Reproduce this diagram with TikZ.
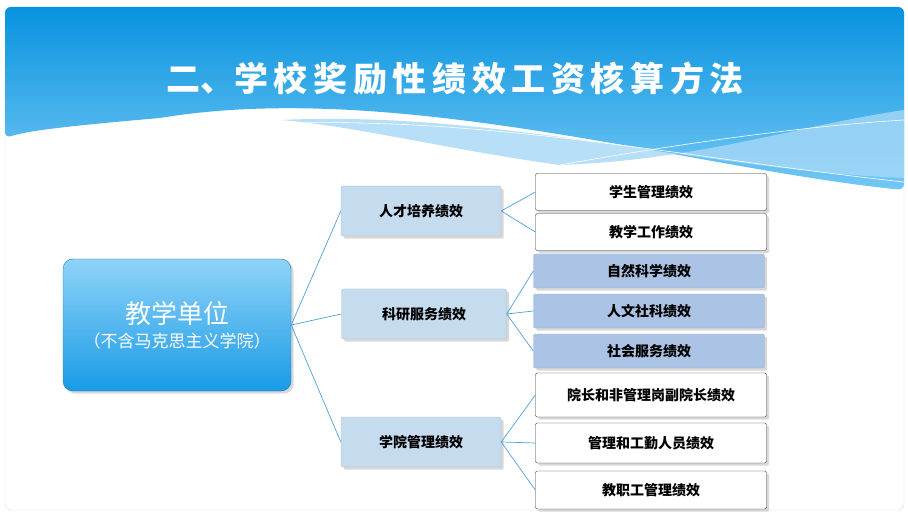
\documentclass[tikz,border=0pt]{standalone}
\usepackage{fontspec}
\setmainfont{Noto Sans CJK SC}
\usetikzlibrary{positioning,shadows}
\definecolor{linkblue}{HTML}{4AA3DF}
\definecolor{catfill}{HTML}{C5DCEF}
\definecolor{subfill}{HTML}{ABC3E4}
\definecolor{headtop}{HTML}{0893DF}
\definecolor{headbot}{HTML}{74C8F4}
\definecolor{waveblue}{HTML}{A6D8F7}
\definecolor{unittop}{HTML}{8FD3F8}
\definecolor{unitbot}{HTML}{1A9BE6}
\tikzset{
  cat/.style={draw=catfill!70!gray,fill=catfill,minimum width=160pt,minimum height=50pt,
    rounded corners=2pt,font=\fontsize{14}{16}\bfseries\selectfont,drop shadow={opacity=0.3}},
  item/.style={draw=black!80,fill=white,minimum width=231pt,minimum height=37pt,
    rounded corners=2pt,font=\fontsize{14}{16}\bfseries\selectfont,drop shadow={opacity=0.3}},
  itemb/.style={item,draw=subfill!80!gray,fill=subfill},
  link/.style={draw=linkblue,line width=0.7pt}
}
\begin{document}
\begin{tikzpicture}[x=1pt,y=-1pt]
\useasboundingbox (0,0) rectangle (908,513);
% slide and header
\fill[white] (0,0) rectangle (908,513);
\draw[black!15,rounded corners=6pt] (5,7) rectangle (904,510);
\shade[top color=headtop,bottom color=headbot,rounded corners=6pt]
  (5,7) -- (904,7) -- (904,190) .. controls (700,170) and (400,80) .. (160,118)
  .. controls (80,125) and (30,130) .. (5,138) -- cycle;
\fill[waveblue,opacity=0.8] (280,120) .. controls (500,110) and (700,170) .. (904,178)
  -- (904,110) .. controls (800,125) and (700,160) .. (560,165)
  .. controls (450,150) and (350,125) .. (280,120) -- cycle;
\draw[white,line width=0.6pt] (290,123) .. controls (500,118) and (700,160) .. (904,182);
\draw[white,line width=0.6pt] (560,165) .. controls (700,140) and (820,125) .. (904,120);
\node[font=\fontsize{34}{38}\bfseries\selectfont,text=white] (title) at (455,78)
  {二、学\,校\,奖\,励\,性\,绩\,效\,工\,资\,核\,算\,方\,法};
% main unit
\node[draw=unitbot!80!black,rounded corners=10pt,top color=unittop,bottom color=unitbot,
  minimum width=228pt,minimum height=132pt,align=center,text=white,drop shadow={opacity=0.3}]
  (unit) at (177,325) {{\fontsize{26}{30}\selectfont 教学单位}\\[6pt]{\fontsize{17}{20}\selectfont （不含马克思主义学院）}};
% categories
\node[cat] (talent) at (421,211) {人才培养绩效};
\node[cat,minimum width=165pt] (research) at (424,314) {科研服务绩效};
\node[cat] (admin) at (421,442) {学院管理绩效};
% items
\node[item] (stu) at (651,192) {学生管理绩效};
\node[item] (teach) at (651,232) {教学工作绩效};
\node[itemb,minimum height=34pt] (nat) at (649,271) {自然科学绩效};
\node[itemb,minimum height=34pt] (hum) at (649,311) {人文社科绩效};
\node[itemb,minimum height=34pt] (soc) at (649,351) {社会服务绩效};
\node[item,minimum height=44pt] (dean) at (651,395) {院长和非管理岗副院长绩效};
\node[item,minimum height=40pt] (staff) at (651,443) {管理和工勤人员绩效};
\node[item,minimum height=38pt] (fac) at (651,490) {教职工管理绩效};
% links
\foreach \c in {talent,research,admin} \draw[link] (unit.east) -- (\c.west);
\foreach \i in {stu,teach} \draw[link] (talent.east) -- (\i.west);
\foreach \i in {nat,hum,soc} \draw[link] (research.east) -- (\i.west);
\foreach \i in {dean,staff,fac} \draw[link] (admin.east) -- (\i.west);
\end{tikzpicture}
\end{document}
